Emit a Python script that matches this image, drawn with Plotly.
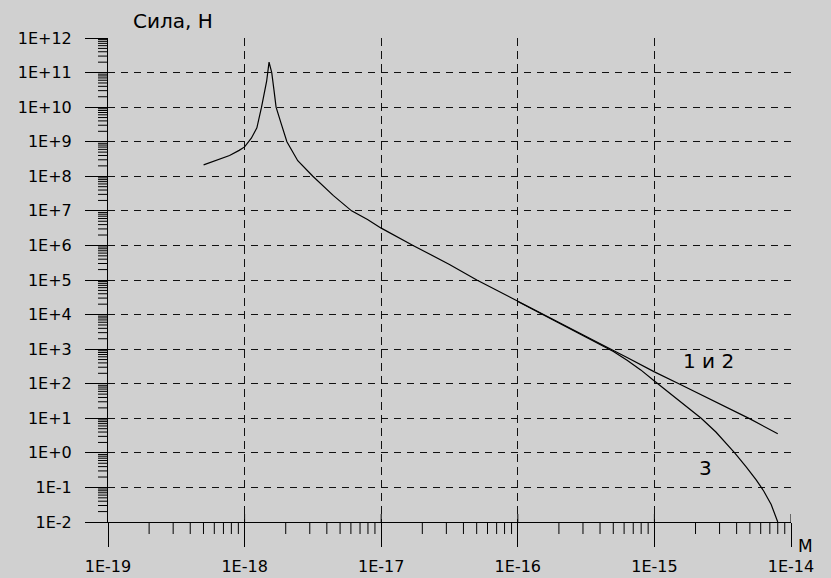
import plotly.graph_objects as go

# ---- data ----
x_tick_vals = [1e-19, 1e-18, 1e-17, 1e-16, 1e-15, 1e-14]
x_tick_text = ["1E-19", "1E-18", "1E-17", "1E-16", "1E-15", "1E-14"]
y_tick_vals = [1e-2, 1e-1, 1e0, 1e1, 1e2, 1e3, 1e4, 1e5, 1e6, 1e7, 1e8, 1e9, 1e10, 1e11, 1e12]
y_tick_text = ["1E-2", "1E-1", "1E+0", "1E+1", "1E+2", "1E+3", "1E+4", "1E+5",
               "1E+6", "1E+7", "1E+8", "1E+9", "1E+10", "1E+11", "1E+12"]
minor_digits = [2, 3, 4, 5, 6, 7, 8, 9]

# curves 1 and 2 (coincide)
r12 = [5.01e-19, 6.31e-19, 7.76e-19, 9.12e-19, 1.00e-18, 1.12e-18, 1.23e-18, 1.33e-18,
       1.40e-18, 1.45e-18, 1.51e-18, 1.58e-18, 1.64e-18, 1.70e-18, 1.86e-18, 2.04e-18,
       2.45e-18, 3.16e-18, 4.47e-18, 6.07e-18, 7.94e-18, 1.00e-17, 1.71e-17,
       3.16e-17, 5.01e-17, 1.00e-16, 1.53e-16, 2.51e-16, 3.98e-16, 6.31e-16, 1.00e-15,
       1.51e-15, 2.51e-15, 5.01e-15, 8.00e-15]
F12 = [2.14e8, 2.95e8, 3.98e8, 5.62e8, 7.08e8, 1.26e9, 2.51e9, 1.0e10,
       2.51e10, 5.62e10, 2.0e11, 1.0e11, 3.16e10, 1.0e10, 3.16e9, 1.0e9,
       2.82e8, 1.0e8, 2.75e7, 1.0e7, 5.62e6, 3.16e6, 1.0e6,
       2.82e5, 1.0e5, 2.4e4, 1.0e4, 3.63e3, 1.45e3, 575, 220,
       100, 37, 9.6, 3.55]

# curve 3
r3 = [1.00e-16, 1.53e-16, 2.51e-16, 3.98e-16, 5.01e-16, 6.31e-16, 7.94e-16, 1.00e-15,
      1.26e-15, 1.58e-15, 2.20e-15, 2.82e-15, 3.87e-15, 4.68e-15, 5.56e-15, 6.31e-15,
      7.16e-15, 8.00e-15]
F3 = [2.4e4, 1.0e4, 3.63e3, 1.42e3, 851, 479, 251, 120,
      57.5, 28, 10, 4.0, 1.0, 0.4, 0.166, 0.079,
      0.032, 0.01]

BG = "#d0d0d0"
FONT = "DejaVu Sans"
TICK = dict(color="black", width=1)

fig = go.Figure()
fig.add_trace(go.Scatter(x=r12, y=F12, mode="lines",
                         line=dict(color="black", width=1.2), showlegend=False))
fig.add_trace(go.Scatter(x=r3, y=F3, mode="lines",
                         line=dict(color="black", width=1.2), showlegend=False))

# upper part of major x ticks (they cross the axis line)
for v in x_tick_vals[1:]:
    fig.add_shape(type="line", xref="x", yref="paper", x0=v, x1=v,
                  ysizemode="pixel", yanchor=0, y0=0, y1=8, line=TICK)

# minor ticks on the x axis (below the axis line)
for v in x_tick_vals[:-1]:
    for k in minor_digits:
        fig.add_shape(type="line", xref="x", yref="paper", x0=k * v, x1=k * v,
                      ysizemode="pixel", yanchor=0, y0=0, y1=-12, line=TICK)

# minor ticks on the y axis (left of the axis line)
for v in y_tick_vals[:-1]:
    for k in minor_digits:
        fig.add_shape(type="line", xref="paper", yref="y", y0=k * v, y1=k * v,
                      xsizemode="pixel", xanchor=0, x0=0, x1=-10, line=TICK)

fig.update_layout(
    width=831, height=578,
    margin=dict(l=108, r=40, t=38, b=56, pad=0),
    paper_bgcolor=BG, plot_bgcolor=BG,
    font=dict(family=FONT, size=16, color="black"),
    xaxis=dict(
        type="log", range=[-19, -14], automargin=False,
        tickmode="array", tickvals=x_tick_vals, ticktext=x_tick_text,
        ticks="outside", ticklen=24, tickwidth=1, tickcolor="black",
        ticklabelstandoff=6,
        showline=True, linecolor="black", linewidth=1,
        showgrid=True, gridcolor="#111111", gridwidth=1.3, griddash="8px,5px",
        zeroline=False,
    ),
    yaxis=dict(
        type="log", range=[-2, 12], automargin=False,
        tickmode="array", tickvals=y_tick_vals, ticktext=y_tick_text,
        ticks="outside", ticklen=22, tickwidth=1, tickcolor="black",
        ticklabelstandoff=10,
        showline=True, linecolor="black", linewidth=1,
        showgrid=True, gridcolor="#111111", gridwidth=1.3, griddash="7px,6px",
        zeroline=False,
    ),
    annotations=[
        dict(text="Сила, Н", xref="paper", yref="paper", x=0.034, y=1,
             xanchor="left", yanchor="middle", yshift=17, showarrow=False,
             font=dict(family=FONT, size=20)),
        dict(text="М", xref="paper", yref="paper", x=1, y=0,
             xanchor="left", yanchor="middle", xshift=5, yshift=-24, showarrow=False,
             font=dict(family=FONT, size=17)),
        dict(text="1 и 2", xref="x", yref="y", x=-14.603, y=2.666,
             xanchor="center", yanchor="middle", showarrow=False,
             font=dict(family=FONT, size=20)),
        dict(text="3", xref="x", yref="y", x=-14.629, y=-0.446,
             xanchor="center", yanchor="middle", showarrow=False,
             font=dict(family=FONT, size=20)),
    ],
)

fig.write_html(
    "out.html",
    config={"displayModeBar": False},
    post_script="document.body.style.margin='0';document.body.style.background='#d0d0d0';",
)
